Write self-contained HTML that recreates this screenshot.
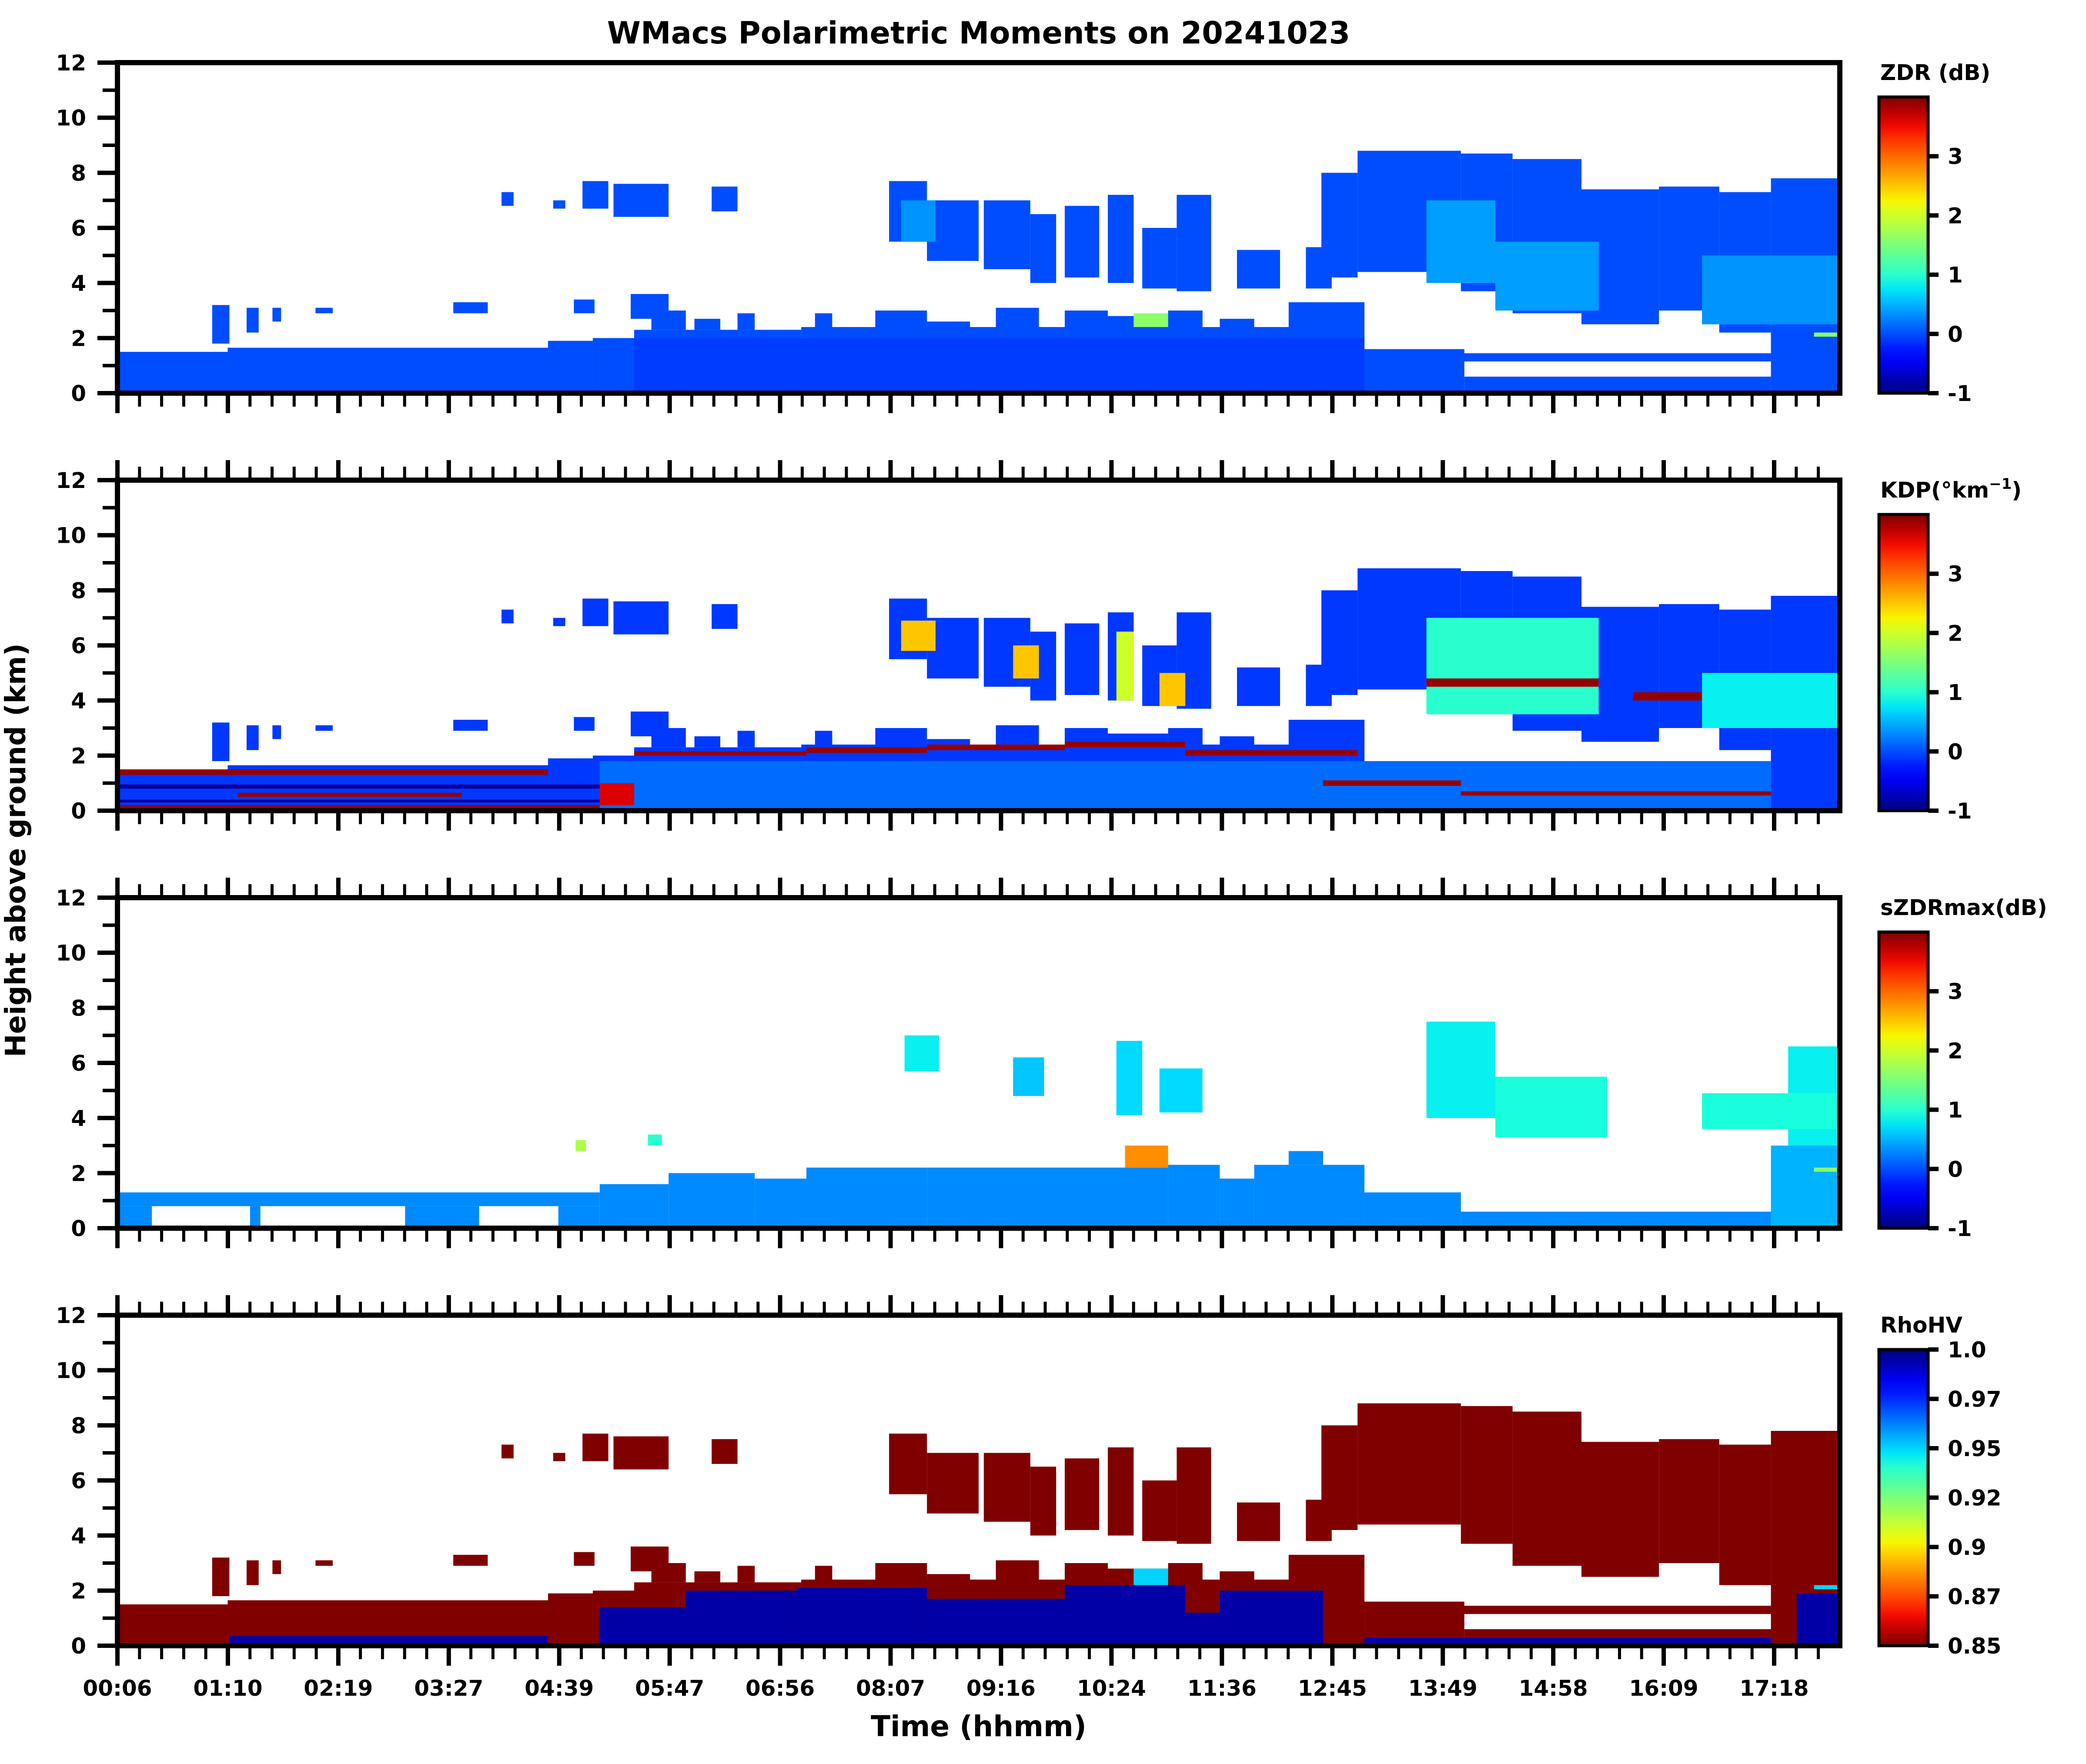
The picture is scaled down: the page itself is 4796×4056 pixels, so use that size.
<!DOCTYPE html>
<html><head><meta charset="utf-8">
<style>
html,body{margin:0;padding:0;background:#fff;}
body{width:4796px;height:4056px;overflow:hidden;}
svg{position:absolute;left:0;top:0;font-family:"DejaVu Sans","Liberation Sans",sans-serif;font-weight:bold;}
</style></head>
<body>
<svg id="fig" width="4796" height="4056" viewBox="0 0 4796 4056" xmlns="http://www.w3.org/2000/svg">
<defs id="defs"></defs>
<text x="2250" y="100" text-anchor="middle" font-size="70">WMacs Polarimetric Moments on 20241023</text>
<text x="0" y="0" transform="translate(58,1955) rotate(-90)" text-anchor="middle" font-size="64">Height above ground (km)</text>
<text x="2250" y="3992" text-anchor="middle" font-size="66">Time (hhmm)</text>
</svg>
<script>
// ---- data ----
const timeLabels = ["00:06","01:10","02:19","03:27","04:39","05:47","06:56","08:07","09:16","10:24","11:36","12:45","13:49","14:58","16:09","17:18"];
const heightTicks = [0,2,4,6,8,10,12];
const cbarTicks = [-1,0,1,2,3];
const rhoTickLabels = ["1.0","0.97","0.95","0.92","0.9","0.87","0.85"];
const panelNames = ["zdr","kdp","szdrmax","rhohv"];
// cloud echo mask shared by ZDR / KDP / RhoHV : [t0 %, t1 %, base km, top km]
const cloudMask = [
 [0,25,0,1.5],[6.4,25,1.5,1.65],[25,27.6,0,1.9],[27.6,30,0,2.0],[30,39.7,0,2.3],[31,33,2.3,3.0],[33.5,35,2.3,2.7],[36,37,2.3,2.9],
 [39.7,72.4,0,2.4],[40.5,41.5,2.4,2.9],[44,47,2.4,3.0],[47,49.5,2.4,2.6],[51,53.5,2.4,3.1],[55,57.5,2.4,3.0],[57.5,61,2.4,2.8],[61,63,2.4,3.0],[64,66,2.4,2.7],[68,72.4,2.4,3.3],
 [72.4,78.2,0,1.6],[78.2,96,0,0.6],[75.6,96,1.15,1.45],[96,100,0,7.8],
 [5.5,6.5,1.8,3.2],[7.5,8.2,2.2,3.1],[9,9.5,2.6,3.1],[11.5,12.5,2.9,3.1],[19.5,21.5,2.9,3.3],[26.5,27.7,2.9,3.4],[29.8,32,2.7,3.6],
 [27,28.5,6.7,7.7],[28.8,32,6.4,7.6],[22.3,23,6.8,7.3],[25.3,26,6.7,7.0],[34.5,36,6.6,7.5],
 [44.8,47,5.5,7.7],[47,50,4.8,7.0],[50.3,53,4.5,7.0],[53,54.5,4.0,6.5],[55,57,4.2,6.8],[57.5,59,4.0,7.2],[59.5,61.5,3.8,6.0],[61.5,63.5,3.7,7.2],[65,67.5,3.8,5.2],[69,70.5,3.8,5.3],
 [69.9,72,4.2,8.0],[72,78,4.4,8.8],[78,81,3.7,8.7],[81,85,2.9,8.5],[85,89.5,2.5,7.4],[89.5,93,3.0,7.5],[93,96,2.2,7.3]
];
const zdrBase = 0.0;
const zdrPatches = [[30,72.4,0,2.0,-0.08],[45.5,47.5,5.5,7.0,0.35],[76,80,4.0,7.0,0.4],[80,86,3.0,5.5,0.4],[92,100,2.5,5.0,0.35],[59,61,2.4,2.9,1.6],[98.5,100,2.05,2.2,1.6]];
const kdpBase = -0.1;
const kdpPatches = [
 [28,96,0,1.8,0.15],[0,28,0.8,0.95,-0.9],[0,28,0.3,0.4,-0.9],
 [0,25,1.3,1.5,3.9],[7,20,0.5,0.65,3.9],[0,28,0.05,0.2,3.9],[28,30,0.2,1.0,3.6],
 [30,40,2.0,2.15,3.9],[40,47,2.1,2.3,3.9],[47,55,2.2,2.4,3.9],[55,62,2.3,2.5,3.9],[62,72,2.0,2.2,3.9],[70,78,0.9,1.1,3.9],[78,96,0.55,0.7,3.9],
 [76,86,3.5,7.0,1.0],[76,86,4.5,4.8,3.9],[88,100,4.0,4.3,3.9],[45.5,47.5,5.8,6.9,2.5],[52,53.5,4.8,6.0,2.5],[58,59,4.0,6.5,2.0],[60.5,62,3.8,5.0,2.5],[92,100,3.0,5.0,0.8]
];
const rhoBase = 0.85;
const rhoPatches = [[28,33,0,1.4,0.995],[33,39.5,0,2.0,0.995],[39.5,47,0,2.1,0.995],[47,55,0,1.7,0.995],[55,62,0,2.2,0.995],[62,64,0,1.2,0.995],[64,70,0,2.0,0.995],[6.5,25,0,0.35,0.995],[72.4,96,0,0.3,0.995],[97.5,100,0,1.9,0.995],[59,61,2.2,2.8,0.95],[98.5,100,2.05,2.2,0.95]];
// sZDRmax cells: [t0 %, t1 %, base km, top km, value dB]
const szdrCells = [
 [0,28,0.8,1.3,0.3],[0,2,0,0.8,0.3],[7.7,8.3,0,0.8,0.3],[16.7,21,0,0.8,0.3],[25.6,28,0,0.8,0.3],
 [28,32,0,1.6,0.3],[32,37,0,2.0,0.3],[37,40,0,1.8,0.3],[40,47,0,2.2,0.3],[47,55,0,2.2,0.3],[55,61,0,2.2,0.3],[61,64,0,2.3,0.3],[64,66,0,1.8,0.3],[66,72.4,0,2.3,0.3],[68,70,2.3,2.8,0.3],
 [72.4,78,0,1.3,0.3],[78,96,0,0.6,0.3],[96,100,0,3.0,0.5],[97,100,3.0,6.6,0.8],
 [45.7,47.7,5.7,7.0,0.8],[52,53.8,4.8,6.2,0.6],[58,59.5,4.1,6.8,0.7],[60.5,63,4.2,5.8,0.7],[76,80,4.0,7.5,0.8],[80,86.5,3.3,5.5,0.9],[92,100,3.6,4.9,0.9],
 [58.5,61,2.2,3.0,2.8],[30.8,31.6,3.0,3.4,1.0],[26.6,27.2,2.8,3.2,1.8],[98.5,100,2.05,2.2,1.6]
];
</script>
<script>
const NS = "http://www.w3.org/2000/svg";
const svg = document.getElementById('fig');
const defs = document.getElementById('defs');
const L = 270, R = 4230, PH = 760;
const panelTop = [144,1104,2064,3024];
function X(t){ return L + t/100*(R-L); }
function Y(p,h){ return panelTop[p] + PH - h/12*PH; }
function interp(pts,x){
  for(let i=1;i<pts.length;i++){ if(x<=pts[i][0]){ const a=pts[i-1],b=pts[i]; return a[1]+(b[1]-a[1])*(x-a[0])/(b[0]-a[0]); } }
  return pts[pts.length-1][1];
}
function jet(x){
  x=Math.max(0,Math.min(1,x));
  const r=interp([[0,0],[0.35,0],[0.66,1],[0.89,1],[1,0.5]],x);
  const g=interp([[0,0],[0.125,0],[0.375,1],[0.64,1],[0.91,0],[1,0]],x);
  const b=interp([[0,0.5],[0.11,1],[0.34,1],[0.65,0],[1,0]],x);
  return 'rgb('+Math.round(r*255)+','+Math.round(g*255)+','+Math.round(b*255)+')';
}
function dbColor(v){ return jet((v+1)/5); }
function rhoColor(v){ return jet(1-(v-0.85)/0.15); }
function el(tag,attrs,parent){ const e=document.createElementNS(NS,tag); for(const k in attrs) e.setAttribute(k,attrs[k]); (parent||svg).appendChild(e); return e; }

function drawCells(p,g,cells,colorFn,fixedVal,name){
  cells.forEach(c=>{
    const v = fixedVal!==null ? fixedVal : c[4];
    const r=el('rect',{x:X(c[0]),y:Y(p,c[3]),width:X(c[1])-X(c[0]),height:Y(p,c[2])-Y(p,c[3]),fill:colorFn(v)},g);
    
    
  });
}

for(let p=0;p<4;p++){
  const top=panelTop[p], bot=top+PH;
  const cp=el('clipPath',{id:'clip'+p},defs);
  el('rect',{x:L,y:top,width:R-L,height:PH},cp);
  const g=el('g',{'clip-path':'url(#clip'+p+')'});
  
  
  if(p===0){ drawCells(p,g,cloudMask,dbColor,zdrBase,'zdr-cell'); drawCells(p,g,zdrPatches,dbColor,null,'zdr-cell'); }
  if(p===1){ drawCells(p,g,cloudMask,dbColor,kdpBase,'kdp-cell'); drawCells(p,g,kdpPatches,dbColor,null,'kdp-cell'); }
  if(p===2){ drawCells(p,g,szdrCells,dbColor,null,'szdrmax-cell'); }
  if(p===3){ drawCells(p,g,cloudMask,rhoColor,rhoBase,'rhohv-cell'); drawCells(p,g,rhoPatches,rhoColor,null,'rhohv-cell'); }

  const f=el('rect',{x:L,y:top,width:R-L,height:PH,fill:'none',stroke:'#000','stroke-width':12});
  
  

  for(let h=0;h<=12;h++){
    const major=h%2===0, y=Y(p,h);
    el('line',{x1:L-(major?46:34),x2:L,y1:y,y2:y,stroke:'#000','stroke-width':major?10:8});
  }
  heightTicks.forEach(h=>{
    const t=el('text',{x:L-72,y:Y(p,h)+18,'text-anchor':'end','font-size':50});
    t.textContent=String(h);
    
    
  });
  const majorStep=(4079-L)/15, minorStep=majorStep/5;
  for(let k=0;L+k*minorStep<=R+1;k++){
    const x=L+k*minorStep, major=k%5===0, len=major?46:31;
    el('line',{x1:x,x2:x,y1:bot,y2:bot+len,stroke:'#000','stroke-width':major?10:7});
    if(p>0) el('line',{x1:x,x2:x,y1:top,y2:top-len,stroke:'#000','stroke-width':major?10:7});
  }
  if(p===3){
    timeLabels.forEach((s,i)=>{
      const t=el('text',{x:L+i*majorStep,y:bot+115,'text-anchor':'middle','font-size':50});
      t.textContent=s;
      
      
    });
  }

  const cbT=top+79, cbB=bot, cbL=4320, cbW=113;
  const gid='grad'+p;
  const lg=el('linearGradient',{id:gid,x1:0,y1:1,x2:0,y2:0},defs);
  for(let i=0;i<=20;i++){ const x=i/20; el('stop',{offset:x,'stop-color':p===3?jet(1-x):jet(x)},lg); }
  const cb=el('rect',{x:cbL,y:cbT,width:cbW,height:cbB-cbT,fill:'url(#'+gid+')',stroke:'#000','stroke-width':7});
  
  
  if(p<3){
    cbarTicks.forEach(v=>{
      const y=cbB-(v+1)/5*(cbB-cbT);
      el('line',{x1:cbL+cbW,x2:cbL+cbW+24,y1:y,y2:y,stroke:'#000','stroke-width':10});
      const t=el('text',{x:4478,y:y+18,'font-size':50});
      t.textContent=String(v);
      
      
    });
  } else {
    rhoTickLabels.forEach((s,i)=>{
      const y=cbT+i*(cbB-cbT)/6;
      el('line',{x1:cbL+cbW,x2:cbL+cbW+24,y1:y,y2:y,stroke:'#000','stroke-width':10});
      const t=el('text',{x:4478,y:y+18,'font-size':50});
      t.textContent=s;
      
      
    });
  }
  const lab=el('text',{x:4323,y:top+40,'font-size':50});
  if(p===1){
    lab.appendChild(document.createTextNode('KDP(°km'));
    const sup=el('tspan',{'font-size':34,dy:-20},lab); sup.textContent='−1';
    const cl=el('tspan',{'font-size':50,dy:20},lab); cl.textContent=')';
  } else {
    lab.textContent=['ZDR (dB)','','sZDRmax(dB)','RhoHV'][p];
  }
  
  
}
</script>
</body></html>
